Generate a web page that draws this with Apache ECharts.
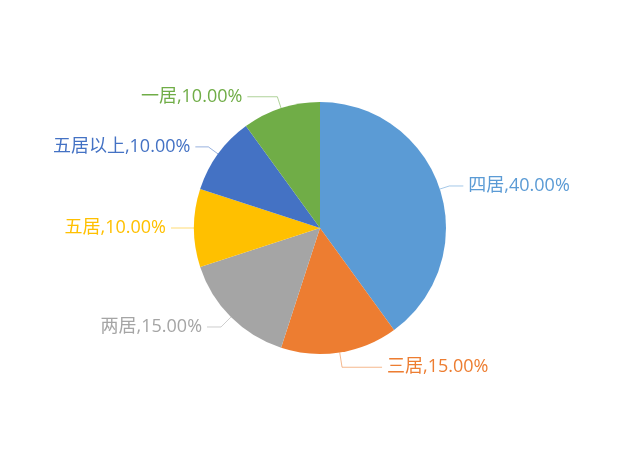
<!doctype html>
<html>
<head>
<meta charset="utf-8">
<title></title>
<script src="https://cdn.jsdelivr.net/npm/echarts@6/dist/echarts.min.js"></script>
<style>
html, body { margin: 0; padding: 0; background: #fff; }
#chart { width: 640px; height: 457px; }
</style>
</head>
<body>
<div id="chart"></div>
<script>
var names = ['四居', '三居', '两居', '五居', '五居以上', '一居'];
var values = [40, 15, 15, 10, 10, 10];

// styles per slice
var colors = ['#5B9BD5', '#ED7D31', '#A5A5A5', '#FFC000', '#4472C4', '#70AD47'];
var lineLen = [[10, 14], [15, 40], [14, 14], [10, 13], [12, 13], [12, 30]];

var data = names.map(function (n, i) {
    return {
        name: n,
        value: values[i],
        itemStyle: { color: colors[i] },
        label: { color: colors[i] },
        labelLine: {
            length: lineLen[i][0],
            length2: lineLen[i][1],
            lineStyle: { color: colors[i], opacity: 0.55 }
        }
    };
});

var chart = echarts.init(document.getElementById('chart'));
chart.setOption({
    backgroundColor: '#fff',
    animation: false,
    series: [{
        type: 'pie',
        center: [320, 228],
        radius: 126,
        startAngle: 90,
        clockwise: true,
        data: data,
        label: {
            show: true,
            fontSize: 18,
            distanceToLabelLine: 5,
            fontFamily: '"Open Sans", "Noto Sans CJK SC", sans-serif',
            formatter: function (p) {
                return p.name + ',' + p.value.toFixed(2) + '%';
            }
        },
        labelLine: {
            show: true,
            lineStyle: { width: 1 }
        }
    }]
});
</script>
</body>
</html>
